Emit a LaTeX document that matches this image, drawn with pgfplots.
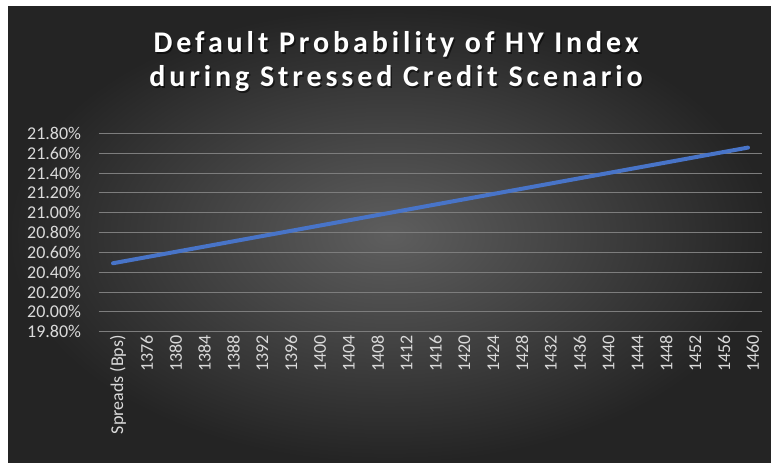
\documentclass[border=0pt]{standalone}
\usepackage{fontspec}
\setmainfont{Carlito}
\usepackage{pgfplots}
\pgfplotsset{compat=1.18}
\definecolor{bgin}{RGB}{94,94,94}
\definecolor{bgout}{RGB}{36,36,36}
\definecolor{gridc}{RGB}{125,125,125}
\definecolor{tickc}{RGB}{218,218,218}
\definecolor{linec}{RGB}{72,116,200}
\begin{document}
\begin{tikzpicture}[x=1pt,y=1pt]
\fill[white] (0,0) rectangle (771,463);
\shade[inner color=bgin, outer color=bgout] (8,0) rectangle (771,456);
\begin{scope}[font=\fontsize{30}{34}\selectfont\bfseries\addfontfeature{LetterSpace=13}]
\node[anchor=base, text=black, opacity=0.55] at (397.5,408.5) {Default Probability of HY Index};
\node[anchor=base, text=black, opacity=0.55] at (397.5,374.5) {during Stressed Credit Scenario};
\node[anchor=base, text=white] at (396,410) {Default Probability of HY Index};
\node[anchor=base, text=white] at (396,376) {during Stressed Credit Scenario};
\end{scope}
\begin{axis}[
  at={(98.6pt,131.3pt)}, anchor=south west,
  scale only axis, width=663.8pt, height=198.4pt,
  xmin=-0.5, xmax=22.5, ymin=19.8, ymax=21.8,
  axis line style={draw=none}, major tick length=0pt,
  tick style={draw=none},
  xtick={0,1,...,22},
  xticklabels={Spreads (Bps),1376,1380,1384,1388,1392,1396,1400,1404,1408,1412,1416,1420,1424,1428,1432,1436,1440,1444,1448,1452,1456,1460},
  x tick label style={rotate=90, anchor=east, yshift=-5pt, font=\fontsize{18}{18}\selectfont, text=tickc},
  ytick={19.8,20.0,20.2,20.4,20.6,20.8,21.0,21.2,21.4,21.6,21.8},
  yticklabel={\pgfmathprintnumber[fixed,fixed zerofill,precision=2]{\tick}\%},
  y tick label style={font=\fontsize{18}{18}\selectfont, text=tickc, xshift=-14pt},
  /pgf/number format/assume math mode=true,
  ymajorgrids, grid style={gridc, line width=0.9pt},
  clip=false,
]
\addplot[linec, line width=4pt, line cap=round, line join=round] coordinates {
(0,20.49) (1,20.543) (2,20.596) (3,20.649) (4,20.702) (5,20.755) (6,20.808) (7,20.861)
(8,20.914) (9,20.967) (10,21.02) (11,21.073) (12,21.126) (13,21.179) (14,21.232)
(15,21.285) (16,21.338) (17,21.391) (18,21.444) (19,21.497) (20,21.55) (21,21.603) (22,21.656)
};
\end{axis}
\end{tikzpicture}
\end{document}
